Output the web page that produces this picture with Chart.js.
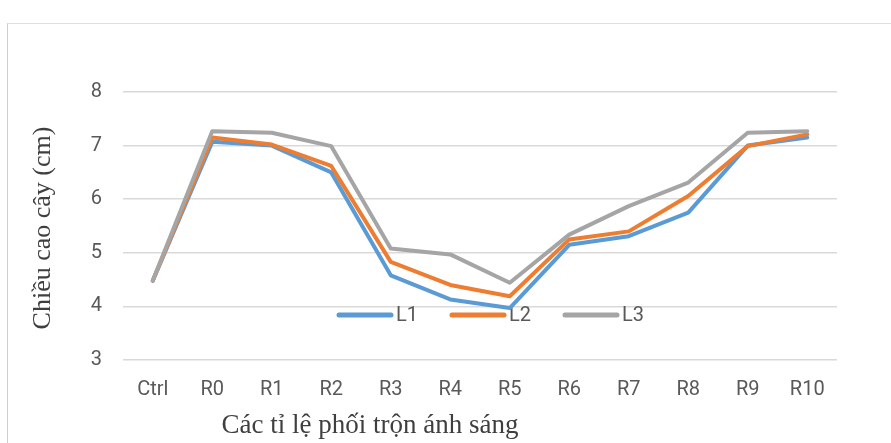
<!DOCTYPE html>
<html>
<head>
    <title>Chiều cao cây</title>
    <meta charset="UTF-8">
    <style>
        body {
            margin: 0;
            background: #ffffff;
        }
        .frame {
            position: absolute;
            left: 7px;
            top: 23px;
            width: 900px;
            height: 440px;
            border-left: 1px solid #cfcfcf;
            border-top: 1px solid #dedede;
        }
        .chart-container {
            position: absolute;
            left: 0;
            top: 0;
            width: 891px;
            height: 443px;
        }
    </style>
    <script src="https://cdn.jsdelivr.net/npm/chart.js"></script>
    <script>
        // values
        const categories = ['Ctrl', 'R0', 'R1', 'R2', 'R3', 'R4', 'R5', 'R6', 'R7', 'R8', 'R9', 'R10'];
        const seriesL1 = [4.48, 7.07, 7.00, 6.50, 4.58, 4.13, 3.97, 5.15, 5.31, 5.75, 7.00, 7.15];
        const seriesL2 = [4.48, 7.15, 7.02, 6.62, 4.83, 4.40, 4.19, 5.25, 5.40, 6.06, 6.99, 7.21];
        const seriesL3 = [4.48, 7.27, 7.24, 6.99, 5.08, 4.97, 4.44, 5.34, 5.87, 6.31, 7.24, 7.27];
        const seriesNames = ['L1', 'L2', 'L3'];
        const seriesColors = ['#5B9BD5', '#ED7D31', '#A5A5A5'];
        const yMin = 3;
        const yMax = 8;
        const yStep = 1;
        const yTitle = 'Chiều cao cây (cm)';
        const xTitle = 'Các tỉ lệ phối trộn ánh sáng';

        // legend sits inside the plot, under the datasets
        const innerLegend = {
            id: 'innerLegend',
            beforeDatasetsDraw(chart) {
                const ctx = chart.ctx;
                const y = 315;
                ctx.save();
                ctx.font = '20px Roboto';
                ctx.textBaseline = 'middle';
                ctx.lineCap = 'round';
                chart.data.datasets.forEach((ds, i) => {
                    const x0 = 339 + i * 113;
                    ctx.strokeStyle = ds.borderColor;
                    ctx.lineWidth = 5;
                    ctx.beginPath();
                    ctx.moveTo(x0, y);
                    ctx.lineTo(x0 + 52, y);
                    ctx.stroke();
                    ctx.fillStyle = '#595959';
                    ctx.fillText(ds.label, x0 + 57, y + 1);
                });
                ctx.restore();
            }
        };

        // axis titles placed like the original (x title is off-centre)
        const axisTitles = {
            id: 'axisTitles',
            afterDraw(chart) {
                const ctx = chart.ctx;
                ctx.save();
                ctx.fillStyle = '#3f3f3f';
                ctx.textAlign = 'center';
                ctx.textBaseline = 'middle';
                ctx.font = '26px "Liberation Serif"';
                ctx.translate(43, 228);
                ctx.rotate(-Math.PI / 2);
                ctx.fillText(yTitle, 0, 0);
                ctx.restore();

                ctx.save();
                ctx.fillStyle = '#3f3f3f';
                ctx.textAlign = 'center';
                ctx.textBaseline = 'middle';
                ctx.font = '27px "Liberation Serif"';
                ctx.fillText(xTitle, 370, 426);
                ctx.restore();
            }
        };

        function renderChart() {
            const seriesData = [seriesL1, seriesL2, seriesL3];
            const datasets = seriesData.map((values, i) => ({
                label: seriesNames[i],
                data: values,
                borderColor: seriesColors[i],
                backgroundColor: seriesColors[i],
                borderWidth: 4,
                pointRadius: 0,
                fill: false,
                tension: 0,
                borderJoinStyle: 'round',
                borderCapStyle: 'round',
                order: 3 - i // L3 on top
            }));

            const ctx = document.getElementById('myChart').getContext('2d');
            new Chart(ctx, {
                type: 'line',
                data: {
                    labels: categories,
                    datasets: datasets
                },
                options: {
                    responsive: false,
                    animation: false,
                    events: [],
                    layout: {
                        padding: { left: 0, top: 92, right: 54, bottom: 0 }
                    },
                    plugins: {
                        legend: { display: false },
                        tooltip: { enabled: false }
                    },
                    scales: {
                        x: {
                            offset: true,
                            grid: { display: false, drawTicks: false },
                            border: { display: false },
                            ticks: {
                                color: '#595959',
                                font: { family: 'Roboto', size: 20 },
                                padding: 18,
                                maxRotation: 0,
                                autoSkip: false
                            },
                            afterFit: function(scale) {
                                scale.height = 83;
                            }
                        },
                        y: {
                            min: yMin,
                            max: yMax,
                            grid: {
                                color: '#d9d9d9',
                                lineWidth: 1.5,
                                drawTicks: false
                            },
                            border: { display: false },
                            ticks: {
                                stepSize: yStep,
                                color: '#595959',
                                font: { family: 'Roboto', size: 20 },
                                padding: 21
                            },
                            afterFit: function(scale) {
                                scale.width = 123;
                            }
                        }
                    }
                },
                plugins: [innerLegend, axisTitles]
            });
        }

        window.onload = function () {
            renderChart();
        };
    </script>
</head>
<body>
<div class="frame"></div>
<div class="chart-container">
    <canvas id="myChart" width="891" height="443"></canvas>
</div>
</body>
</html>
